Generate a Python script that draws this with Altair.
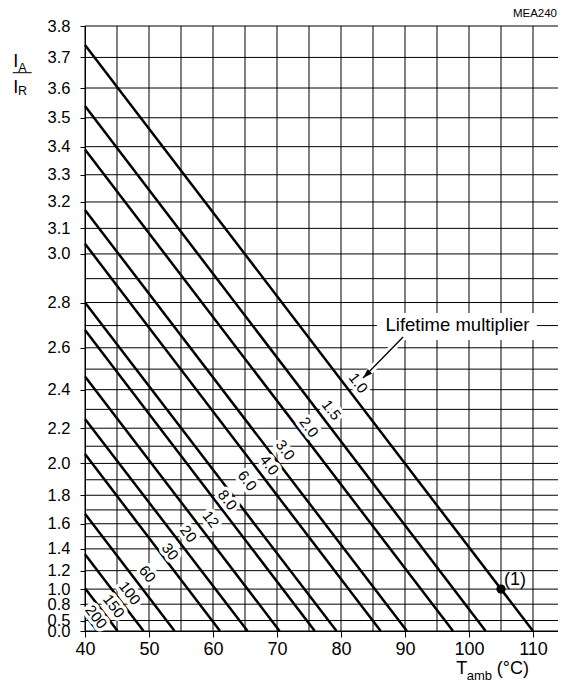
import altair as alt
import pandas as pd

FONT = "Liberation Sans"

# ---- data ----
multiplier_labels = ["1.0", "1.5", "2.0", "3.0", "4.0", "6.0", "8.0", "12", "20", "30", "60", "100", "150", "200"]
# I_A/I_R where each line meets the left edge (T = 40 degC)
ratio_at_40C = [3.74, 3.54, 3.39, 3.17, 3.04, 2.80, 2.68, 2.465, 2.25, 2.055, 1.673, 1.353, 1.01, 0.616]
# temperature where each line meets I_A/I_R = 0
temp_at_zero = [110.0, 102.6, 97.5, 90.3, 86.2, 79.3, 75.9, 70.4, 65.4, 61.1, 54.0, 49.15, 45.1, 41.9]
# label anchor positions
label_temp = [82.7, 78.5, 75.0, 71.3, 68.8, 65.35, 62.25, 59.65, 56.15, 53.3, 49.75, 47.0, 44.5, 41.75]
label_ratio = [2.433, 2.297, 2.205, 2.078, 1.990, 1.894, 1.768, 1.633, 1.522, 1.376, 1.166, 0.952, 0.772, 0.578]

x_ticks = [40, 50, 60, 70, 80, 90, 100, 110]
y_ticks = [0.0, 0.5, 0.8, 1.0, 1.2, 1.4, 1.6, 1.8, 2.0, 2.2, 2.4, 2.6, 2.8,
           3.0, 3.1, 3.2, 3.3, 3.4, 3.5, 3.6, 3.7, 3.8]
grid_x = [40, 45, 50, 55, 60, 65, 70, 75, 80, 85, 90, 95, 100, 105, 110, 115]
grid_y = [0.0, 0.5, 0.8, 1.0, 1.2, 1.4, 1.5, 1.6, 1.7, 1.8, 1.9, 2.0, 2.1, 2.2, 2.3,
          2.4, 2.5, 2.6, 2.7, 2.8, 2.9, 3.0, 3.1, 3.2, 3.3, 3.4, 3.5, 3.6, 3.7, 3.8]

rated_t = [105.0]
rated_i = [1.0]

note_text = ["Lifetime multiplier"]
note_t = [98.2]
note_i = [2.702]
note_box_t = [85.6, 110.6]
note_box_i = [2.755, 2.635]
arrow_from = [89.7, 2.649]
arrow_to = [83.44, 2.457]

# ---- tables ----
rows = []
for k, lab in enumerate(multiplier_labels):
    rows.append({"m": lab, "k": k, "p": 0, "t": 40.0, "i": ratio_at_40C[k]})
    rows.append({"m": lab, "k": k, "p": 1, "t": temp_at_zero[k], "i": 0.0})
curves = pd.DataFrame(rows)
labels_df = pd.DataFrame({"m": multiplier_labels, "t": label_temp, "i": label_ratio})
one = pd.DataFrame({"a": [0]})

xs = alt.Scale(domain=[40, 115], nice=False, zero=False)
ys = alt.Scale(type="pow", exponent=2, domain=[0, 3.8], nice=False, zero=False)

x_axis = alt.Axis(values=x_ticks, format="d", title=None, grid=False, labelFlush=False,
                  labelOverlap=False, tickSize=6, labelPadding=3, labelFontSize=18)
y_axis = alt.Axis(values=y_ticks, format=".1f", title=None, grid=False, labelFlush=False,
                  labelOverlap=False, tickSize=5, labelPadding=10, labelFontSize=16.5)


def X(field="t:Q"):
    return alt.X(field, scale=xs, title=None, axis=x_axis)


def Y(field="i:Q"):
    return alt.Y(field, scale=ys, title=None, axis=y_axis)


curve_layer = alt.Chart(curves).mark_line(color="black", strokeWidth=2.5, strokeCap="butt").encode(
    x=X(), y=Y(), detail="k:N", order="p:Q")

vgrid = alt.Chart(pd.DataFrame({"t": grid_x})).mark_rule(color="black", strokeWidth=1).encode(x=X())
hgrid = alt.Chart(pd.DataFrame({"i": grid_y})).mark_rule(color="black", strokeWidth=1).encode(y=Y())

halo = alt.Chart(labels_df).mark_text(angle=52.5, font=FONT, fontSize=15, color="white",
                                      stroke="white", strokeWidth=7, strokeJoin="round").encode(
    x=X(), y=Y(), text="m:N")
lab_text = alt.Chart(labels_df).mark_text(angle=52.5, font=FONT, fontSize=15, color="black").encode(
    x=X(), y=Y(), text="m:N")

box = alt.Chart(pd.DataFrame({"t": [note_box_t[0]], "t2": [note_box_t[1]],
                              "i": [note_box_i[0]], "i2": [note_box_i[1]]})).mark_rect(
    color="white").encode(x=X(), x2="t2:Q", y=Y(), y2="i2:Q")
note = alt.Chart(pd.DataFrame({"t": note_t, "i": note_i, "s": note_text})).mark_text(
    font=FONT, fontSize=18.5, color="black").encode(x=X(), y=Y(), text="s:N")

arrow_df = pd.DataFrame({"t": [arrow_from[0]], "i": [arrow_from[1]],
                         "t2": [arrow_to[0]], "i2": [arrow_to[1]]})
arrow_halo = alt.Chart(arrow_df).mark_rule(color="white", strokeWidth=7).encode(
    x=X(), y=Y(), x2="t2:Q", y2="i2:Q")
arrow_line = alt.Chart(arrow_df).mark_rule(color="black", strokeWidth=1.3).encode(
    x=X(), y=Y(), x2="t2:Q", y2="i2:Q")
arrow_head = alt.Chart(pd.DataFrame({"t": [arrow_to[0]], "i": [arrow_to[1]]})).mark_point(
    shape="M0,0 L-0.32,1 L0.32,1 Z", filled=True, color="black", opacity=1, size=380, angle=225).encode(
    x=X(), y=Y())

pt_df = pd.DataFrame({"t": rated_t, "i": rated_i, "s": ["(1)"]})
rated_pt = alt.Chart(pt_df).mark_circle(color="black", opacity=1, size=85).encode(x=X(), y=Y())
rated_lab = alt.Chart(pt_df).mark_text(font=FONT, fontSize=18, align="left", baseline="middle",
                                       dx=3, dy=-9).encode(x=X(), y=Y(), text="s:N")


def txt(s, x, y, size, align="left", baseline="alphabetic"):
    return alt.Chart(one).mark_text(text=s, font=FONT, fontSize=size, align=align,
                                    baseline=baseline, color="black").encode(
        x=alt.value(x), y=alt.value(y))


ytitle = [
    txt("I", -71.7, 41, 18),
    txt("A", -66.7, 45.7, 12.5),
    txt("I", -71.7, 67.3, 18),
    txt("R", -67, 69, 12.5),
    alt.Chart(one).mark_rule(color="black", strokeWidth=1).encode(
        x=alt.value(-72.3), x2=alt.value(-53.3), y=alt.value(46.7)),
]
xtitle = [
    txt("T", 371.3, 648, 18),
    txt("amb", 381.7, 654, 13),
    txt("(°C)", 411.8, 647.6, 18),
]
code = txt("MEA240", 472, -9, 11.5, align="right")

chart = alt.layer(
    curve_layer, vgrid, hgrid, halo, lab_text, box, arrow_halo, note, arrow_line, arrow_head,
    rated_pt, rated_lab, *ytitle, *xtitle, code
).properties(
    width=480, height=605,
    padding={"left": 77, "top": 18, "right": -7, "bottom": 52},
    autosize=alt.AutoSizeParams(type="none"),
).configure_view(stroke=None).configure_axis(
    labelFont=FONT, labelColor="black", tickColor="black",
    domainColor="black", domainWidth=1, tickWidth=1, labelOverlap=False, labelBound=False,
    labelFlush=False,
)

chart.save("out.html", embed_options={"renderer": "svg", "actions": False})
